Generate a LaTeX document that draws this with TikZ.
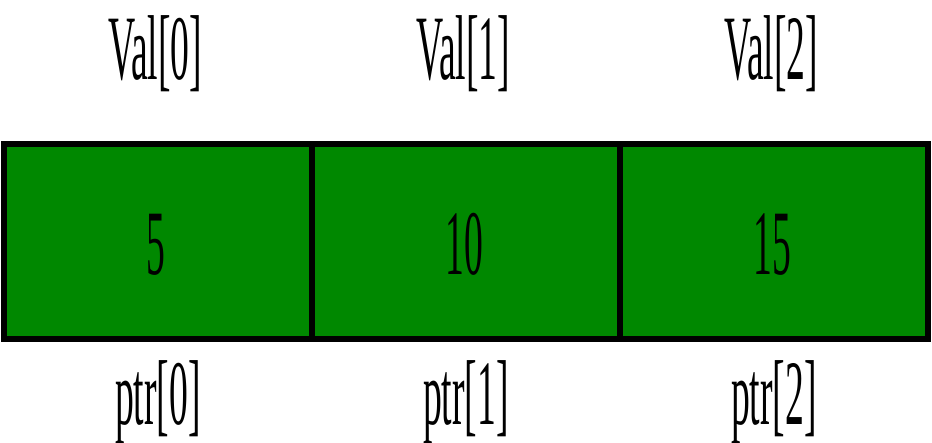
\documentclass[tikz,border=0pt]{standalone}
\usepackage{fontspec}
\setmainfont{Liberation Serif}
\usepackage{xcolor}
\usepackage{tikz}
\definecolor{cellgreen}{RGB}{0,136,0}
\newcommand{\tall}[1]{\scalebox{1}[2.45]{#1}}
\tikzset{
 cell/.style = {draw = black, line width = 1.8pt, fill = cellgreen, minimum width = 3.08cm, minimum height = 1.95cm, inner sep = 0pt},
 tag/.style = {anchor = base, inner sep = 0pt, font = \fontsize{10.7}{12}\selectfont}
}
\begin{document}
\begin{tikzpicture}
 \useasboundingbox (0, 0) rectangle (9.32, 4.43);
 \foreach \i/\x/\v in {0/1.58/5, 1/4.66/10, 2/7.74/15}
 {
  \node [cell] (cell\i) at (\x, 2.015) {};
  \node [tag] (num\i) at (\x - 0.02, 1.68) {\tall{\v}};
  \node [tag] (val\i) at (\x - 0.03, 3.63) {\tall{Val[\i]}};
  \node [tag] (ptr\i) at (\x, 0.18) {\tall{ptr[\i]}};
 }
\end{tikzpicture}
\end{document}
